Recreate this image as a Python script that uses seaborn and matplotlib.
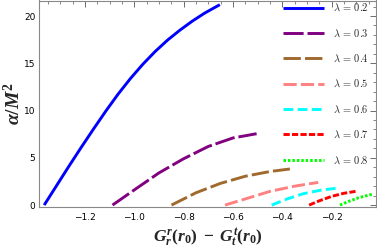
import numpy as np
import pandas as pd
import matplotlib
matplotlib.use("Agg")
import matplotlib.pyplot as plt
import seaborn as sns
from matplotlib.ticker import MultipleLocator

sns.set_style("white")
plt.rcParams["lines.scale_dashes"] = False
plt.rcParams["mathtext.fontset"] = "custom"
plt.rcParams["mathtext.rm"] = "Liberation Serif:bold"
plt.rcParams["mathtext.it"] = "Liberation Serif:italic:bold"
plt.rcParams["mathtext.bf"] = "Liberation Serif:italic:bold"

# ---- data ----
lambdas = [0.2, 0.3, 0.4, 0.5, 0.6, 0.7, 0.8]
x_02 = [-1.365, -1.315, -1.265, -1.215, -1.165, -1.115, -1.065, -1.015, -0.965,
        -0.915, -0.865, -0.815, -0.765, -0.715, -0.653]
y_02 = [0.0, 2.05, 4.1, 6.1, 8.05, 9.95, 11.75, 13.4, 14.9,
        16.25, 17.45, 18.5, 19.45, 20.3, 21.2]
x_03 = [-1.088, -1.0, -0.9, -0.8, -0.7, -0.6, -0.504]
y_03 = [0.0, 1.6, 3.4, 4.9, 6.2, 7.1, 7.55]
x_04 = [-0.849, -0.75, -0.65, -0.55, -0.45, -0.369]
y_04 = [0.0, 1.3, 2.3, 3.05, 3.55, 3.82]
x_05 = [-0.632, -0.55, -0.45, -0.35, -0.254]
y_05 = [0.0, 0.65, 1.45, 2.0, 2.4]
x_06 = [-0.443, -0.38, -0.315, -0.24, -0.166]
y_06 = [0.0, 0.65, 1.2, 1.6, 1.82]
x_07 = [-0.291, -0.25, -0.2, -0.15, -0.103]
y_07 = [0.0, 0.45, 0.92, 1.25, 1.45]
x_08 = [-0.166, -0.13, -0.09, -0.05, -0.03]
y_08 = [0.0, 0.4, 0.78, 1.05, 1.18]

xs = [x_02, x_03, x_04, x_05, x_06, x_07, x_08]
ys = [y_02, y_03, y_04, y_05, y_06, y_07, y_08]
colors = ["#0000ff", "#800080", "#a0692e", "#ff8080", "#00ffff", "#ff0000", "#00ff00"]
# dash patterns in points (None = solid)
dash_styles = [None, (14.5, 2.8), (12.5, 3.0), (9.5, 3.0), (7.0, 3.2), (4.5, 1.6), (1.8, 1.4)]

fig = plt.figure(figsize=(3.77, 2.5), dpi=100)
ax = fig.add_axes([39 / 377, 1 - 206.5 / 250, (376 - 39) / 377, (206.5 - 0.5) / 250])

for lam, x, y, c, d in zip(lambdas, xs, ys, colors, dash_styles):
    df = pd.DataFrame({"x": x, "y": y})
    sns.lineplot(data=df, x="x", y="y", ax=ax, color=c, lw=2.1, sort=False,
                 estimator=None, errorbar=None, label=rf"$\lambda\,=\,{lam}$")
    ln = ax.lines[-1]
    ln.set_solid_capstyle("butt")
    ln.set_dash_capstyle("butt")
    ln.set_solid_joinstyle("round")
    if d is not None:
        ln.set_dashes(d)

ax.set_xlim(-1.386, -0.020)
ax.set_ylim(-0.15, 21.64)

ax.xaxis.set_major_locator(MultipleLocator(0.2))
ax.xaxis.set_minor_locator(MultipleLocator(0.05))
ax.yaxis.set_major_locator(MultipleLocator(5))
ax.yaxis.set_minor_locator(MultipleLocator(1))
ax.tick_params(which="both", direction="in", top=True, right=True, color="#555555",
               labelsize=6.5, labelcolor="black")
ax.tick_params(which="major", length=4, width=0.6)
ax.tick_params(which="minor", length=2, width=0.5)
ax.tick_params(axis="x", pad=4.5)
ax.tick_params(axis="y", pad=2.5)
for s in ax.spines.values():
    s.set_color("#888888")
    s.set_linewidth(0.8)

def fmt(v, pos):
    return f"\u2212{abs(v):.1f}" if v < 0 else f"{v:.1f}"
ax.xaxis.set_major_formatter(matplotlib.ticker.FuncFormatter(fmt))
ax.yaxis.set_major_formatter(matplotlib.ticker.FuncFormatter(lambda v, p: f"{int(v)}"))

ax.set_xlabel(r"$G_r^r(r_0)\;-\;G_t^t(r_0)$", fontsize=12.5, labelpad=3)
ax.set_ylabel(r"$\alpha/M^2$", fontsize=14, labelpad=0)

for t in ax.get_xticklabels() + ax.get_yticklabels():
    t.set_fontfamily("DejaVu Sans")

handles, labels = ax.get_legend_handles_labels()
leg = ax.legend(handles, labels, loc="upper left", bbox_to_anchor=((281.7 - 39) / 337, 0.997),
                frameon=False, fontsize=7.5, handlelength=4.0, handletextpad=0.85,
                labelspacing=1.35, borderpad=0.1, borderaxespad=0.0)
for t in leg.get_texts():
    t.set_math_fontfamily("cm")

fig.savefig("out.png", dpi=100)
